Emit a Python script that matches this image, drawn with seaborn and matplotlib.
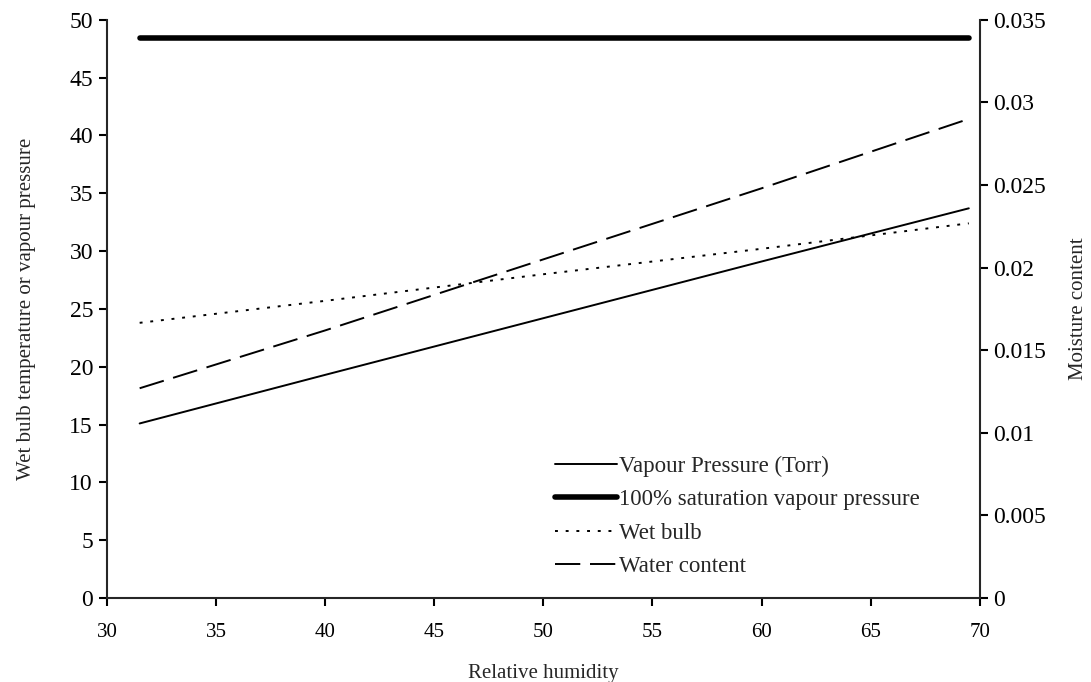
import matplotlib
matplotlib.use("Agg")
import matplotlib.pyplot as plt
import seaborn as sns
import pandas as pd

# Data
rh = [31.5, 40, 50, 60, 69.5]
vapour_pressure = [15.1, 19.3, 24.2, 29.1, 33.7]
saturation_vp = [48.4, 48.4, 48.4, 48.4, 48.4]
wet_bulb = [23.8, 25.7, 28.0, 30.2, 32.4]
water_content = [0.0127, 0.0162, 0.0205, 0.0248, 0.0290]

sns.set_style("ticks")
plt.rcParams['font.family'] = ['Liberation Serif', 'DejaVu Serif']

df = pd.DataFrame({"rh": rh, "vp": vapour_pressure, "sat": saturation_vp,
                   "wb": wet_bulb, "wc": water_content})

fig = plt.figure(figsize=(10.91, 6.82), dpi=100)
ax = fig.add_axes([0.098, 0.123, 0.800, 0.848])
ax2 = ax.twinx()

sns.lineplot(data=df, x="rh", y="vp", ax=ax, color="black", lw=1.4,
             label="Vapour Pressure (Torr)", legend=False)
sns.lineplot(data=df, x="rh", y="sat", ax=ax, color="black", lw=4.0,
             label="100% saturation vapour pressure", legend=False)
sns.lineplot(data=df, x="rh", y="wb", ax=ax, color="black", lw=1.4,
             label="Wet bulb", legend=False)
ax.lines[-1].set_dashes([1.5, 4])
sns.lineplot(data=df, x="rh", y="wc", ax=ax2, color="black", lw=1.4,
             label="Water content", legend=False)
ax2.lines[-1].set_dashes([13, 5])

ax.set_xlim(30, 70)
ax.set_ylim(0, 50)
ax2.set_ylim(0, 0.035)
ax.set_xticks(range(30, 71, 5))
ax.set_yticks(range(0, 51, 5))
ax2.set_yticks([0, 0.005, 0.01, 0.015, 0.02, 0.025, 0.03, 0.035])
ax2.set_yticklabels(["0", "0.005", "0.01", "0.015", "0.02", "0.025", "0.03", "0.035"])

for a in (ax, ax2):
    a.spines["top"].set_visible(False)
    for s in a.spines.values():
        s.set_linewidth(1.5)
    a.tick_params(axis="both", direction="out", length=6, width=1.5, colors="black")
ax.spines["right"].set_visible(False)
ax2.spines["left"].set_visible(False)
ax2.spines["bottom"].set_visible(False)

ax.tick_params(axis="y", labelsize=17, pad=4)
ax.tick_params(axis="x", labelsize=15, pad=12)
ax2.tick_params(axis="y", labelsize=17, pad=4)

ax.set_xlabel("Relative humidity", fontsize=15, labelpad=16)
ax.set_ylabel("Wet bulb temperature or vapour pressure", fontsize=15, labelpad=24)
ax2.set_ylabel("Moisture content", fontsize=15, labelpad=16)

h1, l1 = ax.get_legend_handles_labels()
h2, l2 = ax2.get_legend_handles_labels()
leg = ax.legend(h1 + h2, l1 + l2, loc="lower left", bbox_to_anchor=(0.49, 0.0),
                frameon=False, fontsize=16.5, handlelength=2.7, handletextpad=0.1,
                labelspacing=0.55)

fig.savefig("out.png", dpi=100)
